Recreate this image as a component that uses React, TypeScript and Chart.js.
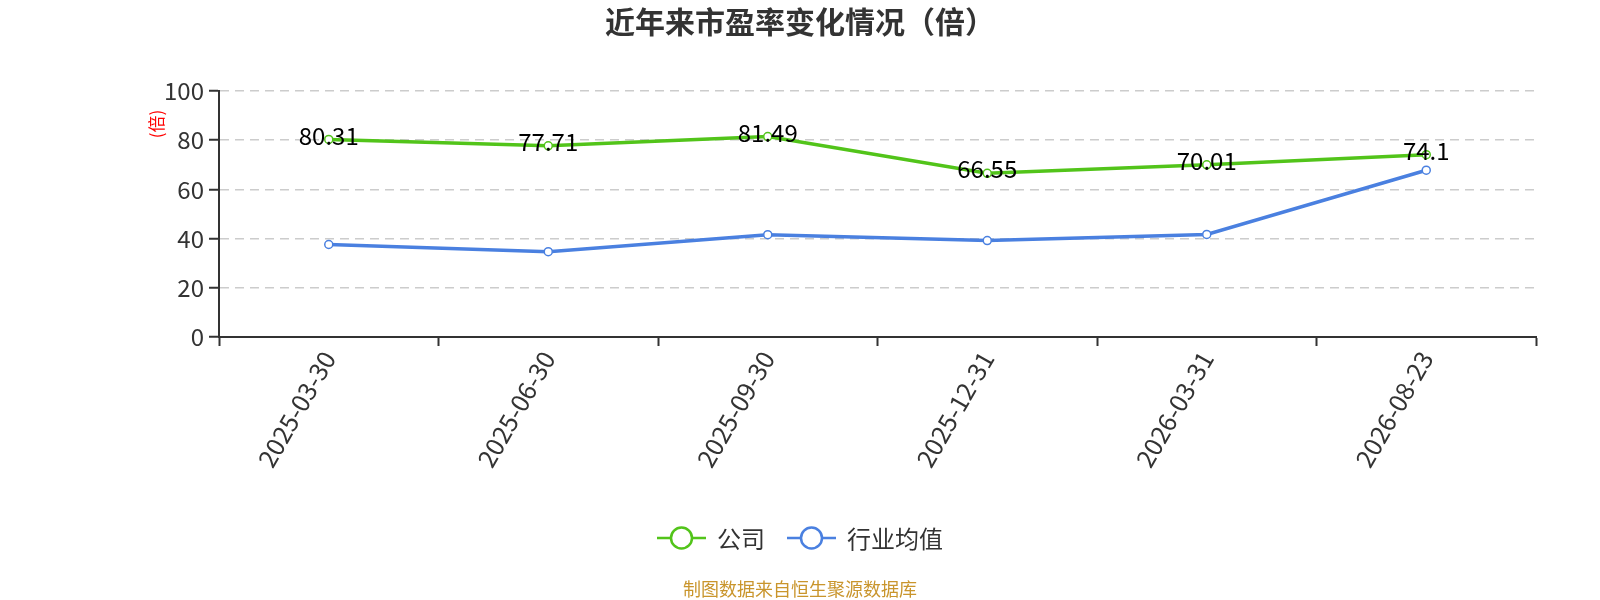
import React, { useEffect, useRef } from "react";
import { Chart, registerables } from "chart.js";

Chart.register(...registerables);

const categories = ["2025-03-30", "2025-06-30", "2025-09-30", "2025-12-31", "2026-03-31", "2026-08-23"];
const companyValues = [80.31, 77.71, 81.49, 66.55, 70.01, 74.1];
const industryValues = [37.6, 34.7, 41.6, 39.2, 41.7, 67.8];
const yTicks = [0, 20, 40, 60, 80, 100];
const seriesNames = ["公司", "行业均值"];
const titleText = "近年来市盈率变化情况（倍）";
const yAxisName = "(倍)";
const footerText = "制图数据来自恒生聚源数据库";

const GREEN = "#52c41a";
const BLUE = "#4a80e0";
const FONT = "'Noto Sans CJK SC', 'Noto Sans', sans-serif";

const decorPlugin = {
  id: "decor",
  afterDatasetsDraw(chart: any) {
    const { ctx } = chart;
    const meta = chart.getDatasetMeta(0);
    ctx.save();
    ctx.font = `24px ${FONT}`;
    ctx.fillStyle = "#000";
    ctx.textAlign = "center";
    ctx.textBaseline = "middle";
    meta.data.forEach((pt: any, i: number) => {
      const v = chart.data.datasets[0].data[i];
      ctx.fillText(String(v), pt.x, pt.y - 4);
    });
    ctx.restore();
  },
  afterDraw(chart: any) {
    const { ctx, chartArea, width } = chart;
    const cx = width / 2;
    ctx.save();
    // title
    ctx.font = `bold 30px ${FONT}`;
    ctx.fillStyle = "#333";
    ctx.textAlign = "center";
    ctx.textBaseline = "middle";
    ctx.fillText(titleText, cx, 22);
    // y axis name
    ctx.save();
    ctx.translate(chartArea.left - 62, chartArea.top + 33);
    ctx.rotate(-Math.PI / 2);
    ctx.font = `17px ${FONT}`;
    ctx.fillStyle = "#ff0000";
    ctx.fillText(yAxisName, 0, 0);
    ctx.restore();
    // legend
    ctx.font = `24px ${FONT}`;
    const iconW = 49;
    const gapIcon = 11;
    const gapItem = 22;
    const items = chart.data.datasets.map((d: any) => ({
      text: d.label,
      color: d.borderColor,
      w: iconW + gapIcon + ctx.measureText(d.label).width,
    }));
    const total = items.reduce((s: number, it: any) => s + it.w, 0) + gapItem * (items.length - 1);
    let x = cx - total / 2;
    const ly = 538;
    items.forEach((it: any) => {
      ctx.strokeStyle = it.color;
      ctx.lineWidth = 2.5;
      ctx.beginPath();
      ctx.moveTo(x, ly);
      ctx.lineTo(x + iconW, ly);
      ctx.stroke();
      ctx.beginPath();
      ctx.arc(x + iconW / 2, ly, 10.5, 0, Math.PI * 2);
      ctx.fillStyle = "#fff";
      ctx.fill();
      ctx.stroke();
      ctx.fillStyle = "#333";
      ctx.textAlign = "left";
      ctx.fillText(it.text, x + iconW + gapIcon, ly + 1);
      x += it.w + gapItem;
    });
    // footer
    ctx.font = `18px ${FONT}`;
    ctx.fillStyle = "#c9952c";
    ctx.textAlign = "center";
    ctx.fillText(footerText, cx, 589);
    ctx.restore();
  },
};

export default function App() {
  const ref = useRef<HTMLCanvasElement>(null);
  useEffect(() => {
    if (!ref.current) return;
    const chart = new Chart(ref.current, {
      type: "line",
      data: {
        labels: categories,
        datasets: [
          {
            label: seriesNames[0],
            data: companyValues,
            borderColor: GREEN,
            backgroundColor: "#fff",
            borderWidth: 3.5,
            pointRadius: 4,
            pointBorderWidth: 1.5,
            pointBackgroundColor: "#fff",
            pointBorderColor: GREEN,
            tension: 0,
          },
          {
            label: seriesNames[1],
            data: industryValues,
            borderColor: BLUE,
            backgroundColor: "#fff",
            borderWidth: 3.5,
            pointRadius: 4,
            pointBorderWidth: 1.5,
            pointBackgroundColor: "#fff",
            pointBorderColor: BLUE,
            tension: 0,
          },
        ],
      },
      options: {
        animation: false,
        responsive: true,
        maintainAspectRatio: false,
        layout: { padding: { top: 91, right: 64, bottom: 113, left: 0 } },
        plugins: {
          legend: { display: false },
          title: { display: false },
          tooltip: { enabled: false },
        },
        scales: {
          x: {
            type: "category",
            offset: true,
            grid: {
              offset: true,
              drawOnChartArea: false,
              drawTicks: true,
              tickLength: 9,
              tickColor: "#333",
              tickWidth: 2,
            },
            border: { display: true, color: "#333", width: 2 },
            ticks: {
              minRotation: 60,
              maxRotation: 60,
              autoSkip: false,
              font: { size: 25, family: FONT },
              color: "#333",
              padding: 0,
            },
            afterFit(scale: any) {
              scale.height = 150;
            },
          },
          y: {
            min: 0,
            max: 100,
            afterBuildTicks(scale: any) {
              scale.ticks = yTicks.map((v) => ({ value: v }));
            },
            grid: {
              color: "#cccccc",
              lineWidth: 1.5,
              drawTicks: true,
              tickLength: 10,
              tickColor: "#333",
              tickWidth: 2,
              tickBorderDash: [],
            },
            border: { display: true, color: "#333", width: 2, dash: [9, 6] },
            ticks: {
              font: { size: 24, family: FONT },
              color: "#333",
              padding: 5,
            },
            afterFit(scale: any) {
              scale.width = 219;
            },
          },
        },
      },
      plugins: [decorPlugin],
    });
    return () => chart.destroy();
  }, []);
  return (
    <div style={{ position: "fixed", left: 0, top: 0, width: 1600, height: 600, background: "#fff" }}>
      <canvas ref={ref} />
    </div>
  );
}
